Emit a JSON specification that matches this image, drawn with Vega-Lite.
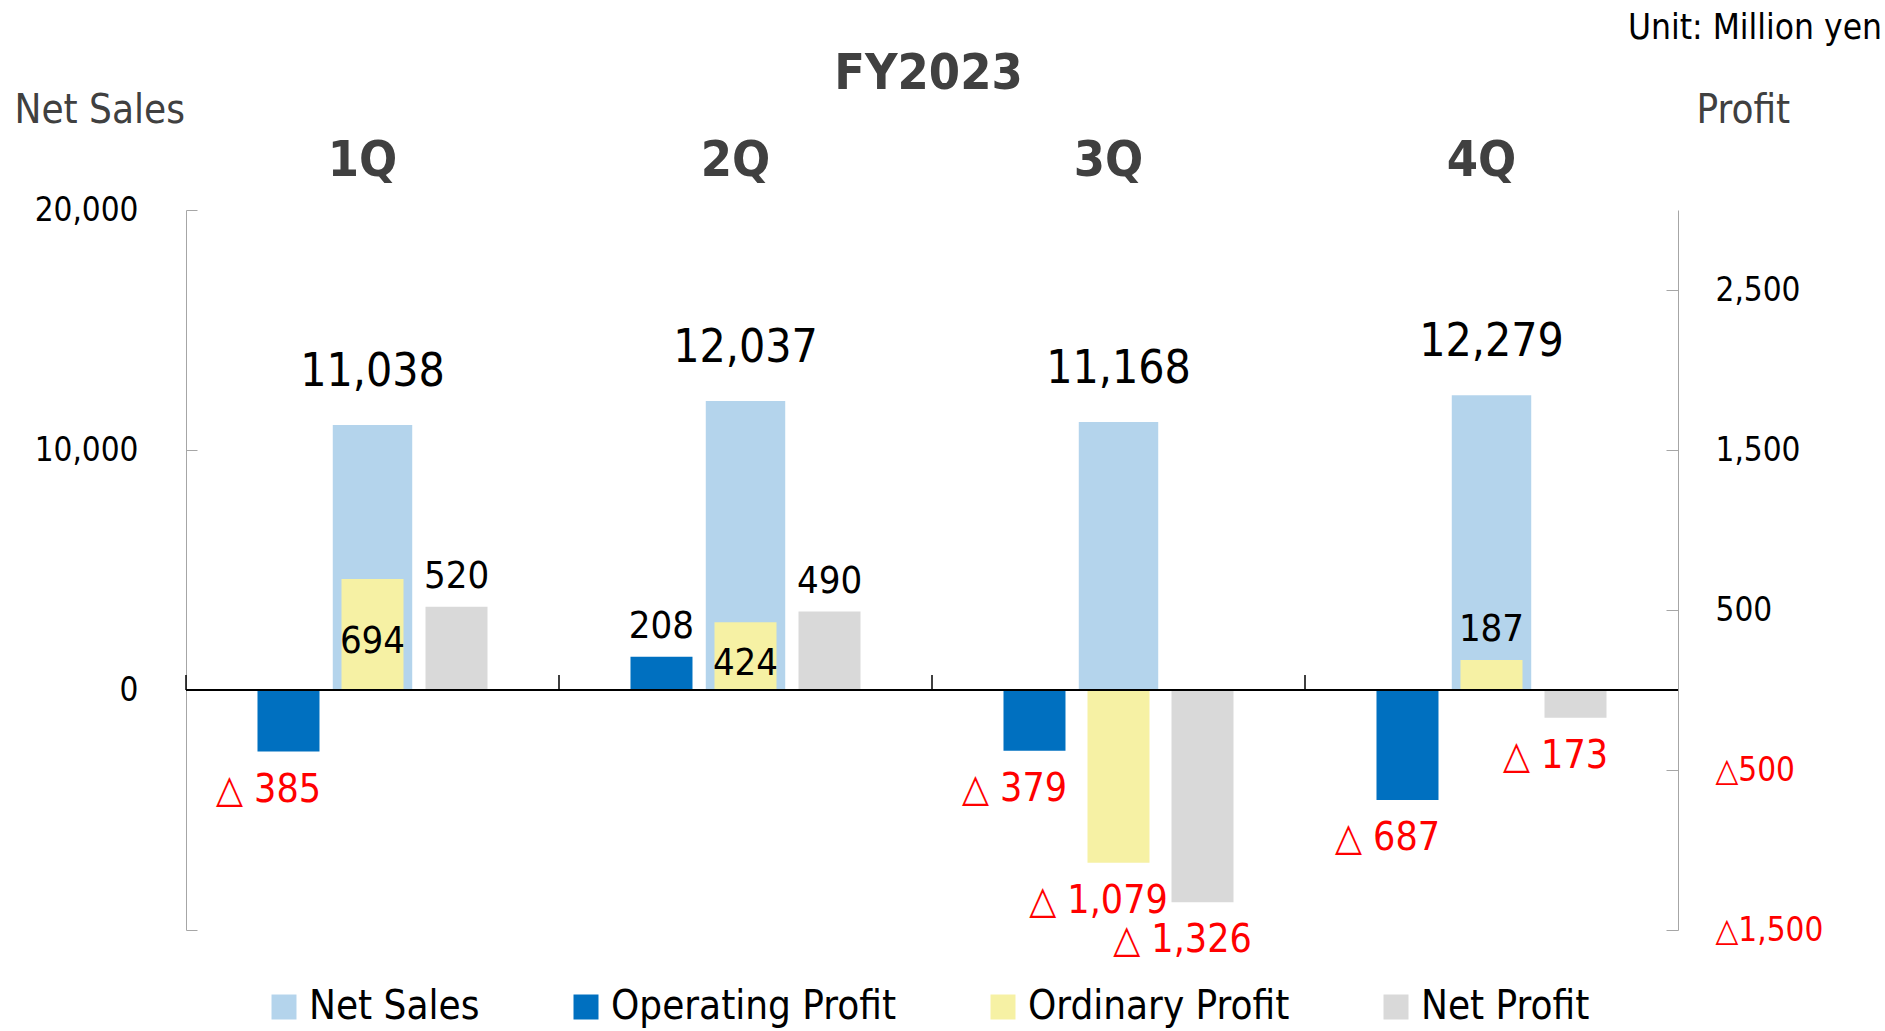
{
  "$schema": "https://vega.github.io/schema/vega-lite/v6.json",
  "width": 1492,
  "height": 720,
  "autosize": {"type": "none"},
  "padding": {"left": 186, "top": 210, "right": 207, "bottom": 101},
  "background": "white",
  "config": {
    "font": "DejaVu Sans Condensed, DejaVu Sans",
    "view": {"stroke": null},
    "axis": {"grid": false}
  },
  "title": {
    "text": "Unit: Million yen",
    "anchor": "end",
    "frame": "group",
    "fontSize": 35,
    "fontWeight": "normal",
    "color": "#000000",
    "dx": 204,
    "offset": 2
  },
  "data": {
    "values": [
      {"quarter": "1Q", "series": "Net Sales", "value": 11038, "label": "11,038"},
      {"quarter": "1Q", "series": "Operating Profit", "value": -385, "label": "△ 385"},
      {"quarter": "1Q", "series": "Ordinary Profit", "value": 694, "label": "694"},
      {"quarter": "1Q", "series": "Net Profit", "value": 520, "label": "520"},
      {"quarter": "2Q", "series": "Net Sales", "value": 12037, "label": "12,037"},
      {"quarter": "2Q", "series": "Operating Profit", "value": 208, "label": "208"},
      {"quarter": "2Q", "series": "Ordinary Profit", "value": 424, "label": "424"},
      {"quarter": "2Q", "series": "Net Profit", "value": 490, "label": "490"},
      {"quarter": "3Q", "series": "Net Sales", "value": 11168, "label": "11,168"},
      {"quarter": "3Q", "series": "Operating Profit", "value": -379, "label": "△ 379"},
      {"quarter": "3Q", "series": "Ordinary Profit", "value": -1079, "label": "△ 1,079"},
      {"quarter": "3Q", "series": "Net Profit", "value": -1326, "label": "△ 1,326"},
      {"quarter": "4Q", "series": "Net Sales", "value": 12279, "label": "12,279"},
      {"quarter": "4Q", "series": "Operating Profit", "value": -687, "label": "△ 687"},
      {"quarter": "4Q", "series": "Ordinary Profit", "value": 187, "label": "187"},
      {"quarter": "4Q", "series": "Net Profit", "value": -173, "label": "△ 173"}
    ]
  },
  "resolve": {"scale": {"y": "independent"}},
  "layer": [
    {
      "transform": [{"filter": "datum.series === 'Net Sales'"}],
      "encoding": {
        "x": {
          "field": "quarter",
          "type": "nominal",
          "scale": {"paddingInner": 0, "paddingOuter": 0},
          "axis": {
            "orient": "top",
            "title": "FY2023",
            "titleX": 742,
            "titleY": -122,
            "titleAlign": "center",
            "titleBaseline": "alphabetic",
            "titleFontSize": 50,
            "titleFontWeight": "bold",
            "titleColor": "#404040",
            "labelFontSize": 50,
            "labelFontWeight": "bold",
            "labelColor": "#404040",
            "labelBaseline": "alphabetic",
            "labelPadding": 35,
            "labelOffset": -10,
            "labelAngle": 0,
            "ticks": false,
            "domain": false
          }
        },
        "y": {
          "field": "value",
          "type": "quantitative",
          "scale": {"domain": [-10000, 20000], "nice": false, "zero": false},
          "axis": {
            "orient": "left",
            "title": "Net Sales",
            "titleAngle": 0,
            "titleX": -172,
            "titleY": -100,
            "titleAlign": "left",
            "titleBaseline": "middle",
            "titleFontSize": 40,
            "titleFontWeight": "normal",
            "titleColor": "#404040",
            "values": [-10000, 0, 10000, 20000],
            "labelExpr": "datum.value < 0 ? '' : format(datum.value, ',')",
            "labelFontSize": 33,
            "labelColor": "#000000",
            "labelPadding": 59,
            "tickSize": -11,
            "tickColor": "#A6A6A6",
            "domainColor": "#A6A6A6"
          }
        }
      },
      "layer": [
        {
          "mark": {"type": "bar", "width": {"band": 0.213}},
          "encoding": {
            "color": {
              "field": "series",
              "type": "nominal",
              "scale": {
                "domain": ["Net Sales", "Operating Profit", "Ordinary Profit", "Net Profit"],
                "range": ["#B4D4EC", "#0070C0", "#F6F1A4", "#D9D9D9"]
              },
              "legend": {
                "orient": "none",
                "legendX": 78,
                "legendY": 777,
                "direction": "horizontal",
                "title": null,
                "symbolType": "square",
                "symbolSize": 625,
                "symbolStrokeWidth": 0,
                "symbolOpacity": 1,
                "labelFontSize": 40,
                "labelColor": "#000000",
                "labelOffset": 5,
                "labelLimit": 500,
                "columnPadding": 86
              }
            }
          }
        },
        {
          "mark": {"type": "text", "baseline": "middle", "dy": -53, "fontSize": 46, "color": "#000000"},
          "encoding": {"text": {"field": "label"}}
        }
      ]
    },
    {
      "transform": [{"filter": "datum.series !== 'Net Sales'"}],
      "layer": [
        {
          "mark": {"type": "bar"},
          "encoding": {
            "x": {"field": "quarter", "type": "nominal", "scale": {"paddingInner": 0, "paddingOuter": 0}},
            "xOffset": {
              "field": "series",
              "type": "nominal",
              "scale": {"domain": ["Operating Profit", "Ordinary Profit", "Net Profit"], "paddingInner": 0.262, "paddingOuter": 0.851}
            },
            "y": {
              "field": "value",
              "type": "quantitative",
              "scale": {"domain": [-1500, 3000], "nice": false, "zero": false},
              "axis": {
                "orient": "right",
                "title": "Profit",
                "titleAngle": 0,
                "titleX": 18,
                "titleY": -100,
                "titleAlign": "left",
                "titleBaseline": "middle",
                "titleFontSize": 40,
                "titleFontWeight": "normal",
                "titleColor": "#404040",
                "values": [-1500, -500, 500, 1500, 2500],
                "labelExpr": "datum.value < 0 ? '△' + format(-datum.value, ',') : format(datum.value, ',')",
                "labelColor": {"condition": {"test": "datum.value < 0", "value": "#FF0000"}, "value": "#000000"},
                "labelFontSize": 33,
                "labelPadding": 49,
                "tickSize": -12,
                "tickColor": "#A6A6A6",
                "domainColor": "#A6A6A6"
              }
            },
            "color": {"field": "series", "type": "nominal"}
          }
        },
        {
          "transform": [{"filter": "datum.value > 0 && !(datum.series === 'Ordinary Profit' && datum.value > 300)"}],
          "mark": {"type": "text", "baseline": "middle", "dy": -30, "fontSize": 38, "color": "#000000"},
          "encoding": {
            "x": {"field": "quarter", "type": "nominal"},
            "xOffset": {"field": "series", "type": "nominal"},
            "y": {"field": "value", "type": "quantitative"},
            "text": {"field": "label"}
          }
        },
        {
          "transform": [{"filter": "datum.value < 0"}],
          "mark": {"type": "text", "baseline": "middle", "dy": 38, "dx": -20, "fontSize": 39, "color": "#FF0000"},
          "encoding": {
            "x": {"field": "quarter", "type": "nominal"},
            "xOffset": {"field": "series", "type": "nominal"},
            "y": {"field": "value", "type": "quantitative"},
            "text": {"field": "label"}
          }
        },
        {
          "mark": {"type": "rule", "color": "#000000", "strokeWidth": 1.5},
          "encoding": {"y": {"datum": 0}}
        },
        {
          "transform": [{"filter": "datum.series === 'Ordinary Profit'"}],
          "mark": {"type": "rule", "color": "#000000", "strokeWidth": 1.5},
          "encoding": {
            "x": {"field": "quarter", "type": "nominal", "bandPosition": 0},
            "y": {"datum": 0},
            "y2": {"datum": 94}
          }
        }
      ]
    },
    {
      "transform": [{"filter": "datum.series === 'Ordinary Profit' && datum.value > 300"}],
      "mark": {"type": "text", "baseline": "middle", "dy": 8, "fontSize": 38, "color": "#000000"},
      "encoding": {
        "x": {"field": "quarter", "type": "nominal"},
        "xOffset": {"field": "series", "type": "nominal"},
        "y": {"field": "value", "type": "quantitative", "scale": {"domain": [-3000, 6000], "nice": false, "zero": false}, "axis": null},
        "text": {"field": "label"}
      }
    }
  ]
}
